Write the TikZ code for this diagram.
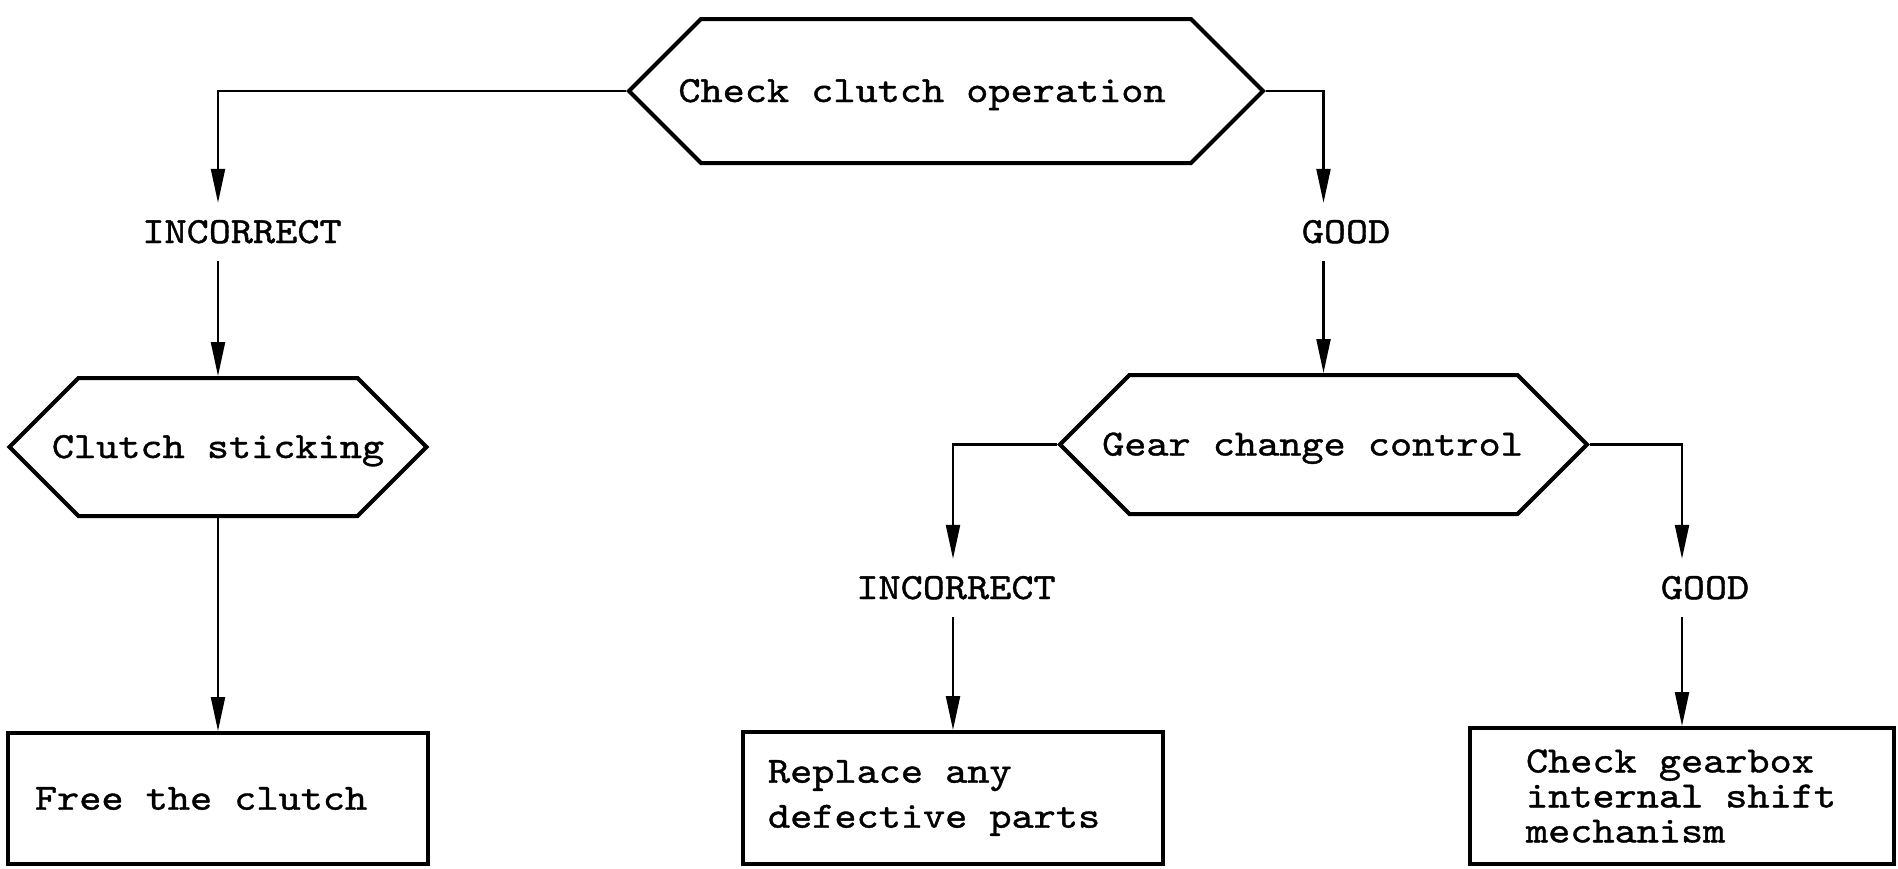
\documentclass[tikz,border=0pt]{standalone}
\usepackage{fontspec}
\newfontfamily\tw[Extension=.otf,FakeStretch=1.14,FakeBold=1]{lmmono10-regular}
\usetikzlibrary{shapes.symbols,arrows.meta}
\begin{document}
\begin{tikzpicture}[x=1pt,y=-1pt,
  hexbox/.style={draw, line width=4pt, signal, signal to=west and east,
    signal pointer angle=90, inner xsep=-100pt, inner ysep=0pt,
    font=\tw\fontsize{37}{40}\selectfont, text height=22pt, text depth=0pt},
  actbox/.style={draw, line width=4pt, rectangle, inner sep=0pt, align=flush left},
  tag/.style={font=\tw\fontsize{37}{40}\selectfont, text height=22pt,
    text depth=0pt, inner xsep=0pt, inner ysep=18pt},
  link/.style={line width=2.2pt, -{Triangle[length=34pt,width=14pt]}}]
\useasboundingbox (0,0) rectangle (1898,868);

% decision hexagons
\node[hexbox, minimum width=634pt, minimum height=144pt] (chk) at (946,91)
  {Check clutch operation\hspace*{48pt}};
\node[hexbox, minimum width=417pt, minimum height=138pt] (stick) at (218,447)
  {Clutch sticking};
\node[hexbox, minimum width=527pt, minimum height=139pt] (gear) at (1323.5,444.5)
  {Gear change control\hspace*{22pt}};

% outcome labels
\node[tag] (inc1) at (242,232) {INCORRECT};
\node[tag] (good1) at (1346,232) {GOOD};
\node[tag] (inc2) at (956,588) {INCORRECT};
\node[tag] (good2) at (1705,588) {GOOD};

% action boxes
\node[actbox, minimum width=420pt, minimum height=131pt, text width=366pt,
  font=\tw\fontsize{37}{45}\selectfont] (free) at (218,798.5) {Free the clutch};
\node[actbox, minimum width=420pt, minimum height=132pt, text width=370pt,
  font=\tw\fontsize{37}{45}\selectfont] (repl) at (953,798)
  {Replace any\\defective parts};
\node[actbox, minimum width=424pt, minimum height=136pt, text width=312pt,
  font=\tw\fontsize{37}{35}\selectfont] (gbox) at (1682,796)
  {Check gearbox\\internal shift\\mechanism};

% connectors
\draw[link] (chk.west) -| (inc1.north -| stick.north);
\draw[link] (inc1.south -| stick.north) -- (stick.north);
\draw[link] (chk.east) -| (good1.north -| gear.north);
\draw[link] (good1.south -| gear.north) -- (gear.north);
\draw[link] (stick.south) -- (free.north);
\draw[link] (gear.west) -| (inc2.north -| repl.north);
\draw[link] (inc2.south -| repl.north) -- (repl.north);
\draw[link] (gear.east) -| (good2.north -| gbox.north);
\draw[link] (good2.south -| gbox.north) -- (gbox.north);
\end{tikzpicture}
\end{document}
